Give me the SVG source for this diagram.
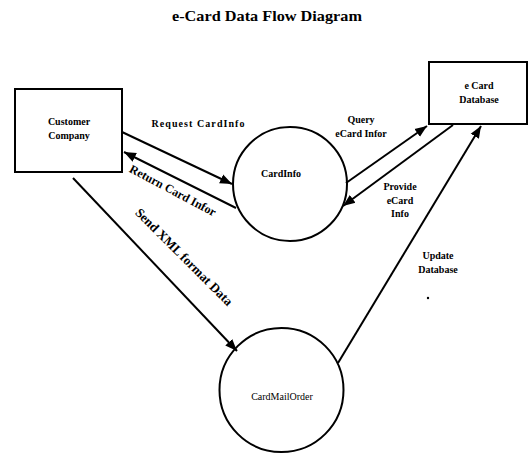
<svg xmlns="http://www.w3.org/2000/svg" width="529" height="453" viewBox="0 0 529 453">
<style>
.t{font-family:"Liberation Serif","Times New Roman",serif;fill:#000;}
.lbl{font-size:10px;font-weight:bold;}
.shape{fill:#fff;stroke:#000;stroke-width:2;}
.ln{stroke:#000;stroke-width:2;fill:none;}
</style>
<defs>
<marker id="ah" viewBox="0 0 10 10" refX="10" refY="5" markerWidth="6" markerHeight="6" orient="auto" markerUnits="strokeWidth">
<path d="M0,1 L10,5 L0,9 z" fill="#000"/>
</marker>
</defs>
<rect width="529" height="453" fill="#fff"/>
<text class="t" x="267" y="21" font-size="15" font-weight="bold" text-anchor="middle" textLength="190" lengthAdjust="spacingAndGlyphs">e-Card Data Flow Diagram</text>

<g id="customer">
<rect class="shape" x="15" y="89" width="107" height="83"/>
<text class="t lbl" x="69" y="125" text-anchor="middle">Customer</text>
<text class="t lbl" x="69" y="139" text-anchor="middle">Company</text>
</g>
<g id="ecard-db">
<rect class="shape" x="429" y="62" width="98" height="62"/>
<text class="t lbl" x="479" y="89" text-anchor="middle">e Card</text>
<text class="t lbl" x="479" y="103" text-anchor="middle">Database</text>
</g>
<g id="cardinfo">
<circle class="shape" cx="290" cy="184" r="57"/>
<text class="t lbl" x="281" y="177" text-anchor="middle">CardInfo</text>
</g>
<g id="cardmailorder">
<circle class="shape" cx="281.5" cy="390" r="62"/>
<text class="t" x="282" y="400" font-size="10" text-anchor="middle">CardMailOrder</text>
</g>

<g id="connectors">
<line class="ln" x1="122" y1="132" x2="232" y2="184" marker-end="url(#ah)"/>
<line class="ln" x1="236" y1="208" x2="124" y2="152" marker-end="url(#ah)"/>
<line class="ln" x1="73" y1="178" x2="237" y2="351" marker-end="url(#ah)"/>
<line class="ln" x1="346" y1="183" x2="427" y2="126" marker-end="url(#ah)"/>
<line class="ln" x1="453" y1="125" x2="343" y2="206" marker-end="url(#ah)"/>
<line class="ln" x1="338" y1="363" x2="481" y2="126" marker-end="url(#ah)"/>
</g>

<g id="labels">
<text class="t lbl" x="198" y="127" text-anchor="middle" textLength="93" lengthAdjust="spacing">Request CardInfo</text>
<text class="t" x="171" y="194" font-size="12" font-weight="bold" text-anchor="middle" transform="rotate(28 171 194)">Return Card Infor</text>
<text class="t" x="181" y="260" font-size="13" font-weight="bold" text-anchor="middle" transform="rotate(45 181 260)">Send XML format Data</text>
<text class="t lbl" x="361" y="123" text-anchor="middle">Query</text>
<text class="t lbl" x="361" y="137" text-anchor="middle">eCard Infor</text>
<text class="t lbl" x="400" y="190" text-anchor="middle">Provide</text>
<text class="t lbl" x="400" y="204" text-anchor="middle">eCard</text>
<text class="t lbl" x="400" y="217" text-anchor="middle">Info</text>
<text class="t lbl" x="438" y="259" text-anchor="middle">Update</text>
<text class="t lbl" x="438" y="273" text-anchor="middle">Database</text>
<circle cx="428" cy="298" r="1.2" fill="#000"/>
</g>
</svg>
